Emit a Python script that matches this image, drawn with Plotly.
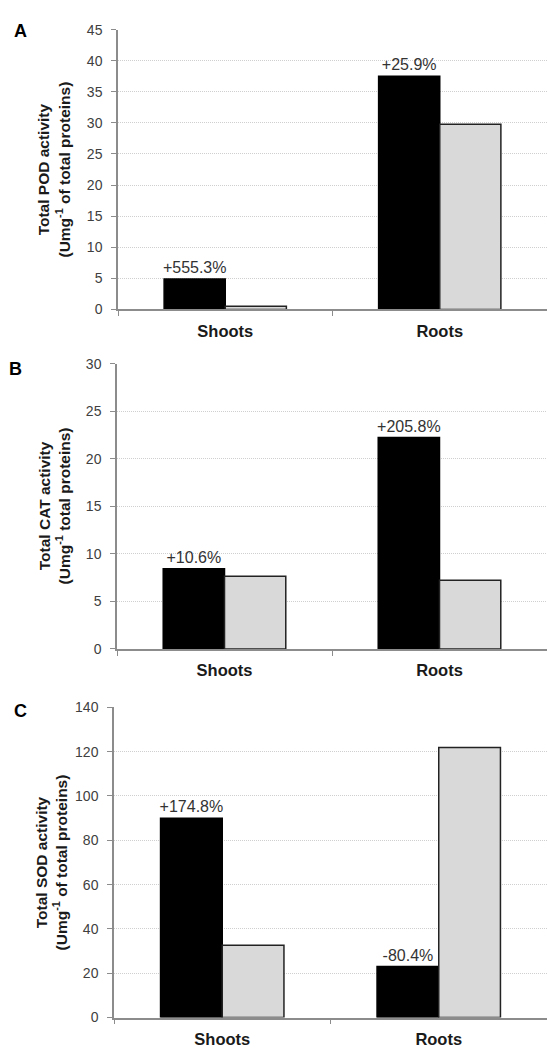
import plotly.graph_objects as go

categories = ["Shoots", "Roots"]

pod_treated = [4.9, 37.5]
pod_control = [0.5, 29.8]
pod_labels = ["+555.3%", "+25.9%"]

cat_treated = [8.43, 22.25]
cat_control = [7.64, 7.22]
cat_labels = ["+10.6%", "+205.8%"]

sod_treated = [89.9, 23.0]
sod_control = [32.6, 121.9]
sod_labels = ["+174.8%", "-80.4%"]

panel_letters = ["A", "B", "C"]
y_titles = [
    "Total POD activity<br>(Umg<sup>-1</sup> of total proteins)",
    "Total CAT activity<br>(Umg<sup>-1</sup> total proteins)",
    "Total SOD activity<br>(Umg<sup>-1</sup> of total proteins)",
]
y_ranges = [[0, 45], [0, 30], [0, 140]]
y_dticks = [5, 5, 20]

W, H = 547, 1063
# pixel geometry (top, bottom, left) of each plot area
geo = [(22, 306, 118), (361.3, 650.7, 117), (710, 1025, 114)]
letter_pos = [(20, 23), (15, 367), (20, 714)]
title_x = [54, 54, 51]

FONT = "Arial, Liberation Sans, sans-serif"

fig = go.Figure()
data = [
    (pod_treated, pod_control, pod_labels),
    (cat_treated, cat_control, cat_labels),
    (sod_treated, sod_control, sod_labels),
]

layout = dict(
    width=W, height=H,
    margin=dict(l=0, r=0, t=0, b=0),
    paper_bgcolor="white", plot_bgcolor="white",
    showlegend=False,
    barmode="group", bargap=0.43, bargroupgap=0,
    font=dict(family=FONT, color="#333333"),
    annotations=[],
)

for i, (tr, ct, lab) in enumerate(data):
    n = "" if i == 0 else str(i + 1)
    xa, ya = "x" + n, "y" + n
    fig.add_trace(go.Bar(
        x=categories, y=tr, xaxis=xa, yaxis=ya,
        marker=dict(color="black", line=dict(color="black", width=1.5)),
        text=lab, textposition="outside", constraintext="none", cliponaxis=False,
        outsidetextfont=dict(family=FONT, size=16, color="#333333"),
        offsetgroup="t",
    ))
    fig.add_trace(go.Bar(
        x=categories, y=ct, xaxis=xa, yaxis=ya,
        marker=dict(color="#d9d9d9", line=dict(color="#222222", width=1.5)),
        offsetgroup="c",
    ))
    top, bot, left = geo[i]
    ydom = [1 - bot / H, 1 - top / H]
    layout["xaxis" + n] = dict(
        domain=[left / W, 1], anchor=ya, range=[-0.5, 1.5],
        showline=True, linecolor="#8c8c8c", linewidth=1.5,
        ticks="outside", tickson="boundaries", ticklen=5, tickcolor="#8c8c8c",
        tickfont=dict(family=FONT, size=16.5, color="#1a1a1a", weight="bold"),
        ticklabelstandoff=6, showgrid=False, zeroline=False, fixedrange=True,
    )
    layout["yaxis" + n] = dict(
        domain=ydom, anchor=xa, range=y_ranges[i], dtick=y_dticks[i],
        showline=True, linecolor="#8c8c8c", linewidth=1.5,
        ticks="outside", ticklen=5, tickcolor="#8c8c8c",
        tickfont=dict(family=FONT, size=14, color="#404040"),
        ticklabelstandoff=6,
        showgrid=True, gridcolor="#cfcfcf", griddash="1px,1px", gridwidth=1,
        zeroline=False,
    )
    layout["annotations"].append(dict(
        text=y_titles[i], textangle=-90, xref="paper", yref="paper",
        x=title_x[i] / W, y=(ydom[0] + ydom[1]) / 2, xanchor="center", yanchor="middle",
        showarrow=False, font=dict(family=FONT, size=15.5, color="#1a1a1a", weight="bold"),
    ))
    lx, ly = letter_pos[i]
    layout["annotations"].append(dict(
        text=panel_letters[i], xref="paper", yref="paper",
        x=lx / W, y=1 - ly / H, xanchor="center", yanchor="middle",
        showarrow=False, font=dict(family=FONT, size=18, color="black", weight="bold"),
    ))

fig.update_layout(**layout)
fig.write_html("out.html", config={"displayModeBar": False},
               post_script="document.body.style.margin='0';")
